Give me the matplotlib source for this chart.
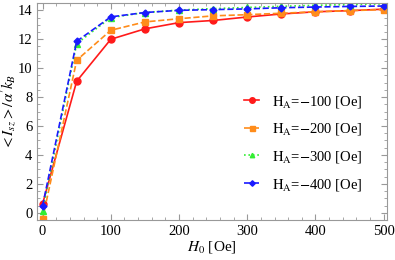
import numpy as np
import matplotlib
matplotlib.use('Agg')
import matplotlib.pyplot as plt

# Daten
H0 = [0, 50, 100, 150, 200, 250, 300, 350, 400, 450, 500]
I_100 = [0.62, 9.1, 12.0, 12.72, 13.15, 13.3, 13.54, 13.75, 13.9, 13.98, 14.08]
I_200 = [-0.43, 10.55, 12.62, 13.2, 13.42, 13.62, 13.7, 13.8, 13.9, 13.98, 14.05]
I_300 = [0.14, 11.7, 13.5, 13.85, 14.02, 14.12, 14.2, 14.28, 14.35, 14.4, 14.45]
I_400 = [0.48, 11.86, 13.55, 13.85, 14.0, 14.05, 14.1, 14.18, 14.23, 14.27, 14.3]
labels = ['-100', '-200', '-300', '-400']

plt.rcParams['font.family'] = ['Liberation Serif', 'DejaVu Serif']
plt.rcParams['mathtext.fontset'] = 'stix'

fig = plt.figure(figsize=(3.95, 2.6), dpi=100)
ax = fig.add_axes([0.094, 0.154, 0.886, 0.834])

ax.plot(H0, I_100, '-o', color='#ff1a1a', ms=5, lw=1.2,
        label=r'$\mathrm{H_A}$=$-$' + labels[0][1:] + ' [Oe]')
ax.plot(H0, I_200, '--s', color='#ff8c1a', ms=4.5, lw=1.2,
        label=r'$\mathrm{H_A}$=$-$' + labels[1][1:] + ' [Oe]')
ax.plot(H0, I_300, ':^', color='#33ee33', ms=4, lw=1.2,
        label=r'$\mathrm{H_A}$=$-$' + labels[2][1:] + ' [Oe]')
ax.plot(H0, I_400, '--D', color='#1a1aff', ms=3.5, lw=1.2,
        label=r'$\mathrm{H_A}$=$-$' + labels[3][1:] + ' [Oe]')

ax.set_xlim(-8, 505)
ax.set_ylim(-0.5, 14.5)
ax.set_xticks([0, 100, 200, 300, 400, 500])
ax.set_yticks([0, 2, 4, 6, 8, 10, 12, 14])
ax.set_xticks(np.arange(0, 501, 20), minor=True)
ax.set_yticks(np.arange(0, 14.6, 0.5), minor=True)
ax.tick_params(which='both', direction='in', top=True, right=True,
               color='#999999', labelsize=10.5)
ax.tick_params(which='major', length=4)
ax.tick_params(which='minor', length=2)
for s in ax.spines.values():
    s.set_color('#999999')

ax.set_xlabel(r'$H_0$ [Oe]', fontsize=11, labelpad=1)
ax.set_ylabel(r"$<I_{sz}>/\alpha' k_B$", fontsize=11, labelpad=0)

ax.legend(loc='lower left', bbox_to_anchor=(0.555, 0.065), frameon=False,
          fontsize=10.5, handlelength=1.0, handletextpad=0.9,
          labelspacing=0.8, markerscale=0.8)

fig.savefig('out.png', dpi=100)
